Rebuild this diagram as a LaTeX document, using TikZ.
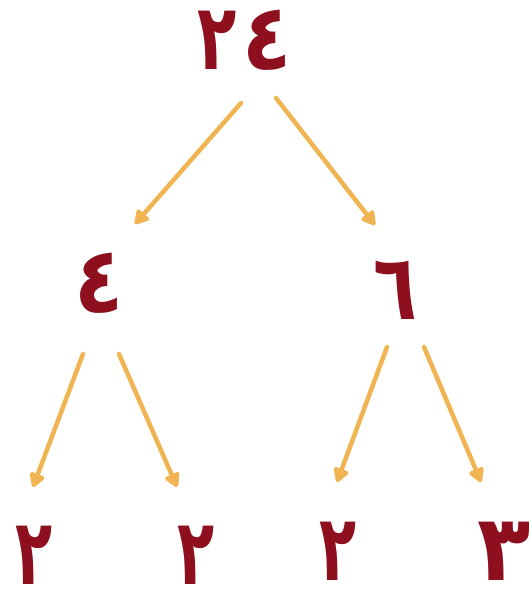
\documentclass[tikz,border=0pt]{standalone}
\usepackage{fontspec}
\usetikzlibrary{arrows.meta}
\newfontfamily\arabicfont[Script=Arabic]{DejaVu Sans}
\definecolor{digitred}{HTML}{8E101E}
\definecolor{arroworange}{HTML}{F0B452}
\newcommand{\narrowglyph}[2]{\scalebox{#1}[1]{#2}}
\tikzset{
  digit/.style={inner sep=0pt, anchor=base, text depth=0pt, text=digitred,
    font=\arabicfont\bfseries\fontsize{92}{92}\selectfont},
  factorarrow/.style={draw=arroworange, line width=4.5pt, line cap=round,
    -{Triangle[length=16pt,width=17pt,round]}},
}
\begin{document}
\begin{tikzpicture}[x=1pt,y=-1pt]
\useasboundingbox (0,0) rectangle (529,596);
\node[digit] (n24) at (245,70) {\narrowglyph{0.7}{٢}\hspace{6pt}\narrowglyph{0.88}{٤}};
\node[digit] (n4) at (99,312) {\narrowglyph{0.88}{٤}};
\node[digit] (n6) at (395,319) {\narrowglyph{0.78}{٦}};
\node[digit] (b1) at (34,584) {\narrowglyph{0.66}{٢}};
\node[digit] (b2) at (196,584) {\narrowglyph{0.66}{٢}};
\node[digit] (b3) at (338,580) {\narrowglyph{0.66}{٢}};
\node[digit] (b4) at (504,580) {\narrowglyph{0.95}{٣}};
\coordinate (s1) at (241,103); \coordinate (t1) at (135,224);
\coordinate (s2) at (276,98);  \coordinate (t2) at (375,225);
\coordinate (s3) at (83,354);  \coordinate (t3) at (33,487);
\coordinate (s4) at (119,354); \coordinate (t4) at (177,487);
\coordinate (s5) at (387,347); \coordinate (t5) at (337,482);
\coordinate (s6) at (424,347); \coordinate (t6) at (481,482);
\draw[factorarrow] (s1) -- (t1);
\draw[factorarrow] (s2) -- (t2);
\draw[factorarrow] (s3) -- (t3);
\draw[factorarrow] (s4) -- (t4);
\draw[factorarrow] (s5) -- (t5);
\draw[factorarrow] (s6) -- (t6);
\end{tikzpicture}
\end{document}
